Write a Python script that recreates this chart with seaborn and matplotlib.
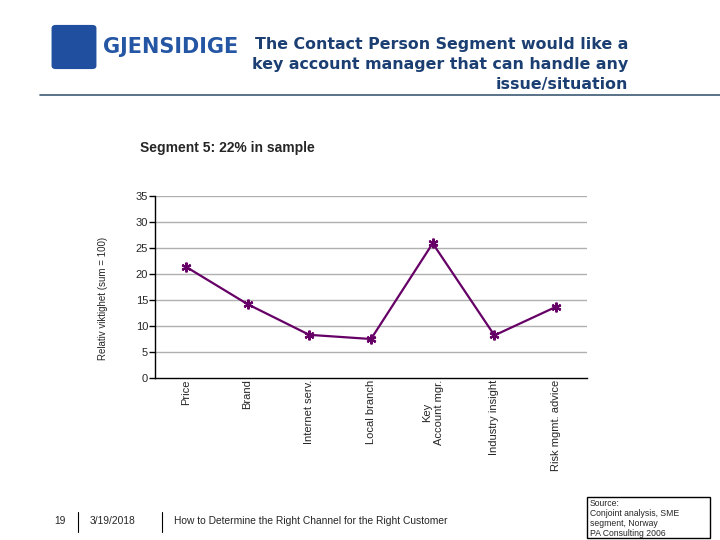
import matplotlib
matplotlib.use("Agg")
import matplotlib.pyplot as plt
import matplotlib.patches as mpatches
import seaborn as sns
import pandas as pd

categories = ["Price", "Brand", "Internet serv.", "Local branch",
              "Key\nAccount mgr.", "Industry insight", "Risk mgmt. advice"]
values = [21.4, 14.2, 8.3, 7.5, 25.9, 8.2, 13.7]
yticks = [0, 5, 10, 15, 20, 25, 30, 35]

sns.set_theme(style="white")
plt.rcParams['font.family'] = ['Liberation Sans', 'DejaVu Sans']

df = pd.DataFrame({"cat": range(len(categories)), "val": values})

fig = plt.figure(figsize=(7.2, 5.4), dpi=100)
ax = fig.add_axes([155/720, 1-378/540, (587-155)/720, (378-196)/540])

for y in yticks[1:]:
    ax.axhline(y, color="#b0b0b0", lw=1.0, zorder=0)

sns.lineplot(data=df, x="cat", y="val", ax=ax, color="#660066", lw=1.6,
             marker=(6, 2, 0), markersize=7, markeredgewidth=1.6,
             markeredgecolor="#660066", sort=False)

ax.set_xlim(-0.5, len(categories) - 0.5)
ax.set_ylim(0, 35)
ax.set_yticks(yticks)
ax.set_yticklabels([str(t) for t in yticks], fontsize=8)
ax.set_xticks(range(len(categories)))
ax.set_xticklabels(categories, rotation=90, fontsize=8, va="top", ha="center",
                   multialignment="center")
ax.set_xticks([i - 0.5 for i in range(len(categories) + 1)], minor=True)
ax.tick_params(axis="x", which="major", length=0, pad=1)
ax.tick_params(axis="x", which="minor", length=4, width=1, color="black", direction="out")
ax.tick_params(axis="y", length=4, width=1, color="black", direction="out", pad=1, left=True)
ax.set_xlabel("")
ax.set_ylabel("")
for s in ["top", "right"]:
    ax.spines[s].set_visible(False)
for s in ["left", "bottom"]:
    ax.spines[s].set_color("black")
    ax.spines[s].set_linewidth(1.0)

fig.text(103/720, 1-298/540, "Relativ viktighet (sum = 100)", rotation=90,
         fontsize=7, ha="center", va="center")
fig.text(140/720, 1-148/540, "Segment 5: 22% in sample", fontsize=10,
         fontweight="bold", ha="left", va="center")

# header
logo = mpatches.FancyBboxPatch((53/720, 1-68/540), 42/720, 42/540,
                               boxstyle="round,pad=0.002,rounding_size=0.006",
                               transform=fig.transFigure, facecolor="#1f4f9e",
                               edgecolor="none")
fig.patches.append(logo)
fig.text(103/720, 1-47/540, "GJENSIDIGE", fontsize=15, color="#2456a4",
         fontweight="bold", ha="left", va="center", family=["DejaVu Sans"])
title_lines = ["The Contact Person Segment would like a",
               "key account manager that can handle any",
               "issue/situation"]
for i, line in enumerate(title_lines):
    fig.text(628/720, 1-(45 + 19.5*i)/540, line, fontsize=11.4, color="#1c3f73",
             fontweight="bold", ha="right", va="center", family=["DejaVu Sans"])
fig.add_artist(plt.Line2D([40/720, 1], [1-95/540, 1-95/540],
                          transform=fig.transFigure, color="#3d5a73", lw=1.2))

# footer
fig.text(60/720, 1-521/540, "19", fontsize=7.4, ha="center", va="center")
fig.add_artist(plt.Line2D([78/720, 78/720], [1-512/540, 1-532/540],
                          transform=fig.transFigure, color="black", lw=0.8))
fig.text(90/720, 1-521/540, "3/19/2018", fontsize=7.4, ha="left", va="center")
fig.add_artist(plt.Line2D([162/720, 162/720], [1-512/540, 1-532/540],
                          transform=fig.transFigure, color="black", lw=0.8))
fig.text(174/720, 1-521/540, "How to Determine the Right Channel for the Right Customer",
         fontsize=7.4, ha="left", va="center")
box = mpatches.Rectangle((587/720, 1-538/540), 123/720, 41/540,
                         transform=fig.transFigure, facecolor="white",
                         edgecolor="black", lw=1.0)
fig.patches.append(box)
fig.text(590/720, 1-499/540,
         "Source:\nConjoint analysis, SME\nsegment, Norway\nPA Consulting 2006",
         fontsize=6.2, ha="left", va="top", linespacing=1.15)

fig.savefig("out.png", dpi=100)
